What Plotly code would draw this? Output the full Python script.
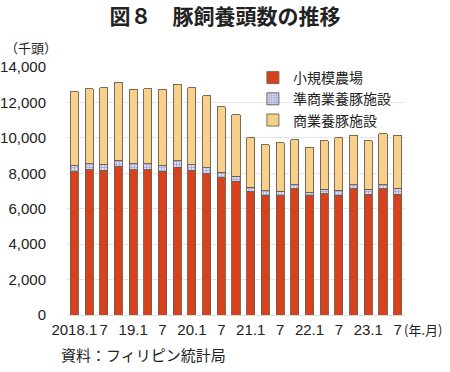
import plotly.graph_objects as go

periods = ["2018.1", "2018.4", "2018.7", "2018.10",
           "2019.1", "2019.4", "2019.7", "2019.10",
           "2020.1", "2020.4", "2020.7", "2020.10",
           "2021.1", "2021.4", "2021.7", "2021.10",
           "2022.1", "2022.4", "2022.7", "2022.10",
           "2023.1", "2023.4", "2023.7"]

# thousand heads
small_farms = [8100, 8200, 8170, 8400, 8200, 8200, 8110, 8340, 8170, 7970, 7740, 7550,
               6950, 6770, 6720, 7130, 6720, 6850, 6750, 7120, 6830, 7120, 6830]
semi_commercial = [350, 330, 340, 350, 330, 330, 340, 380, 320, 330, 320, 280,
                   270, 250, 260, 210, 180, 250, 280, 240, 260, 240, 320]
commercial = [4150, 4250, 4310, 4400, 4210, 4230, 4270, 4320, 4340, 4080, 3700, 3480,
              2775, 2600, 2730, 2560, 2565, 2740, 2965, 2780, 2750, 2880, 2990]

tick_positions = ["2018.1", "2018.7", "2019.1", "2019.7", "2020.1", "2020.7",
                  "2021.1", "2021.7", "2022.1", "2022.7", "2023.1", "2023.7"]
tick_labels = ["2018.1", "7", "19.1", "7", "20.1", "7", "21.1", "7", "22.1", "7", "23.1", "7"]

series_names = ["小規模農場", "準商業養豚施設", "商業養豚施設"]

FONT = "Liberation Sans, Arial, Noto Sans CJK JP, sans-serif"
JP = "Noto Sans CJK JP, sans-serif"
BORDER = dict(color="#6b5d4a", width=0.9)

fig = go.Figure()
fig.add_trace(go.Bar(x=periods, y=small_farms, name=series_names[0],
                     marker=dict(color="#d8411e", line=BORDER)))
fig.add_trace(go.Bar(x=periods, y=semi_commercial, name=series_names[1],
                     marker=dict(color="#b9bde4", line=BORDER,
                                 pattern=dict(shape="+", fgcolor="#7377bb",
                                              bgcolor="#d9dcf2", size=3, solidity=0.5))))
fig.add_trace(go.Bar(x=periods, y=commercial, name=series_names[2],
                     marker=dict(color="#f7d18c", line=BORDER)))

fig.update_layout(
    width=450, height=372,
    margin=dict(l=67, r=45, t=67, b=57),
    barmode="stack",
    bargap=0.45,
    plot_bgcolor="white",
    paper_bgcolor="white",
    font=dict(family=FONT, size=15, color="#222222"),
    title=dict(text="<b>図８　豚飼養頭数の推移</b>", x=0.5, xanchor="center",
               y=0.956, yanchor="middle",
               font=dict(family=JP, size=21, color="#222222")),
    legend=dict(x=0.55, xanchor="left", y=1.02, yanchor="top",
                traceorder="normal", bgcolor="rgba(0,0,0,0)",
                font=dict(family=JP, size=14, color="#222222"),
                itemwidth=30, tracegroupgap=0),
    showlegend=True,
)

# white panel behind the legend (hides gridlines, stays under the bars)
fig.add_shape(type="rect", xref="paper", yref="paper",
              x0=0.64, x1=0.995, y0=0.77, y1=0.985,
              fillcolor="white", line=dict(width=0), layer="between")

fig.update_yaxes(range=[0, 14000], tickvals=list(range(0, 14001, 2000)),
                 tickformat=",d", showgrid=True, gridcolor="#e4e4e4", gridwidth=1,
                 zeroline=True, zerolinecolor="#dddddd", zerolinewidth=1,
                 showline=False, ticks="", ticklabelstandoff=20, automargin=False,
                 tickfont=dict(size=15))
fig.update_xaxes(type="category", tickvals=tick_positions, ticktext=tick_labels,
                 showgrid=False, showline=False, ticks="", tickangle=0, automargin=False,
                 tickfont=dict(size=15), ticklabelstandoff=4)

fig.add_annotation(text="（千頭）", xref="paper", yref="paper",
                   x=-0.19, xanchor="left", y=1.08, yanchor="middle",
                   showarrow=False,
                   font=dict(family=JP, size=13, color="#222222"))
fig.add_annotation(text="(年.月)", xref="paper", yref="paper",
                   x=0.992, xanchor="left", y=-0.058, yanchor="middle",
                   showarrow=False,
                   font=dict(family=JP, size=13, color="#222222"))
fig.add_annotation(text="資料：フィリピン統計局", xref="paper", yref="paper",
                   x=-0.024, xanchor="left", y=-0.16, yanchor="middle",
                   showarrow=False,
                   font=dict(family=JP, size=15, color="#222222"))

fig.write_html("out.html", config={"displayModeBar": False},
               post_script="document.body.style.margin='0';")
